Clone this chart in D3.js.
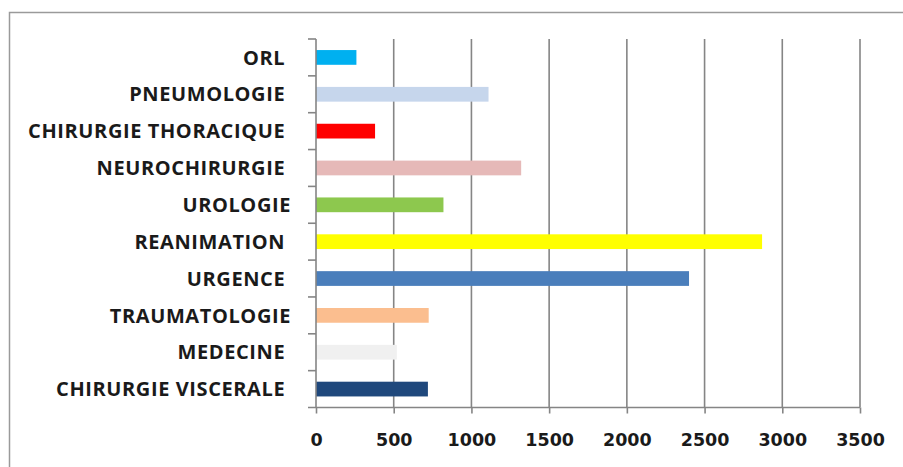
<!DOCTYPE html>
<html>
<head>
<meta charset="utf-8">
<script src="https://cdn.jsdelivr.net/npm/d3@7"></script>
<style>
  html, body { margin: 0; padding: 0; background: #fff; }
  svg { display: block; }
  .cat { font-family: "Open Sans", Lato, sans-serif; font-weight: 700; font-size: 20px; letter-spacing: 0.6px; fill: #1a1a1a; white-space: pre; }
  .num { font-family: "DejaVu Sans", sans-serif; font-weight: 700; font-size: 17.5px; fill: #1a1a1a; }
</style>
</head>
<body>
<svg id="chart" width="903" height="467"></svg>
<script>
// Services, listed from top to bottom
const categories = [
  "ORL ", "PNEUMOLOGIE ", "CHIRURGIE THORACIQUE ", "NEUROCHIRURGIE ", "UROLOGIE",
  "REANIMATION ", "URGENCE ", "TRAUMATOLOGIE", "MEDECINE ", "CHIRURGIE VISCERALE "
];
const values = [260, 1110, 380, 1320, 820, 2870, 2400, 725, 520, 720];
const colors = [
  "#00b0f0", "#c6d6ec", "#ff0000", "#e6b9b8", "#8dc84e",
  "#ffff00", "#4a7ebb", "#fbbe8f", "#f0f0f0", "#1f487c"
];
const tickValues = [0, 500, 1000, 1500, 2000, 2500, 3000, 3500];

const svg = d3.select("#chart");
const plotLeft = 316, plotRight = 860, plotTop = 39, plotBottom = 407.5;

const x = d3.scaleLinear().domain([0, 3500]).range([plotLeft, plotRight]);
const y = d3.scaleBand().domain(categories).range([plotTop, plotBottom]).paddingInner(0.6).paddingOuter(0.3);

// frame
svg.append("path")
  .attr("d", `M9.5,467 V12.5 H903`)
  .attr("fill", "none").attr("stroke", "#9a9a9a").attr("stroke-width", 1.5);

// vertical gridlines
svg.append("g").selectAll("line")
  .data(tickValues.slice(1))
  .join("line")
  .attr("x1", d => x(d)).attr("x2", d => x(d))
  .attr("y1", plotTop).attr("y2", plotBottom)
  .attr("stroke", "#858585").attr("stroke-width", 1.6);

// bars
svg.append("g").selectAll("rect")
  .data(categories)
  .join("rect")
  .attr("x", x(0))
  .attr("y", d => y(d))
  .attr("width", (d, i) => x(values[i]) - x(0))
  .attr("height", y.bandwidth())
  .attr("fill", (d, i) => colors[i]);

// bottom axis
const xAxis = d3.axisBottom(x).tickValues(tickValues).tickFormat(d3.format("d"))
  .tickSize(6).tickSizeOuter(0).tickPadding(20);
const gx = svg.append("g").attr("transform", `translate(0,${plotBottom})`).call(xAxis);
gx.select(".domain").attr("stroke", "#858585").attr("stroke-width", 1.6)
  .attr("d", `M${plotLeft - 8},0H${plotRight}`);
gx.selectAll(".tick line").attr("stroke", "#858585").attr("stroke-width", 1.6);
gx.selectAll(".tick text").attr("class", "num");
gx.attr("font-family", null).attr("font-size", null);

// left axis line with category separators
const boundaries = d3.range(categories.length).map(i => plotTop + i * y.step());
const gy = svg.append("g");
gy.append("line")
  .attr("x1", plotLeft).attr("x2", plotLeft).attr("y1", plotTop).attr("y2", plotBottom)
  .attr("stroke", "#858585").attr("stroke-width", 1.6);
gy.selectAll("line.sep")
  .data(boundaries)
  .join("line").attr("class", "sep")
  .attr("x1", plotLeft - 8).attr("x2", plotLeft)
  .attr("y1", d => d).attr("y2", d => d)
  .attr("stroke", "#858585").attr("stroke-width", 1.6);

// category labels
svg.append("g").selectAll("text")
  .data(categories)
  .join("text")
  .attr("class", "cat")
  .attr("x", 291)
  .attr("y", d => y(d) + y.bandwidth() / 2)
  .attr("dy", "0.36em")
  .attr("text-anchor", "end")
  .text(d => d);
</script>
</body>
</html>
